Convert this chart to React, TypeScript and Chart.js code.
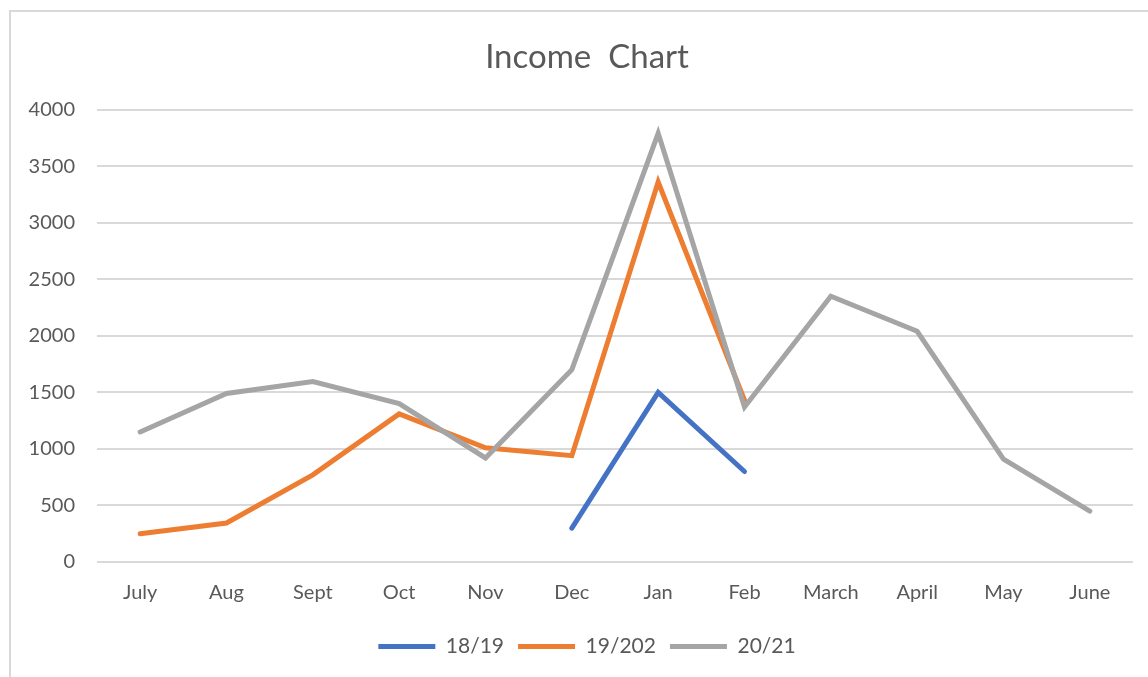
import React, { useEffect, useRef } from "react";
import { Chart, registerables } from "chart.js";

Chart.register(...registerables);

const months = ["July", "Aug", "Sept", "Oct", "Nov", "Dec", "Jan", "Feb", "March", "April", "May", "June"];
const s1819 = [null, null, null, null, null, 300, 1500, 800, null, null, null, null];
const s19202 = [250, 345, 770, 1310, 1010, 940, 3360, 1430, null, null, null, null];
const s2021 = [1150, 1490, 1595, 1400, 920, 1700, 3790, 1370, 2350, 2040, 910, 450];
const seriesNames = ["18/19", "19/202", "20/21"];
const seriesColors = ["#4472C4", "#ED7D31", "#A5A5A5"];

const TEXT = "#595959";
const FONT = "Lato";

export default function App() {
  const ref = useRef<HTMLCanvasElement>(null);
  useEffect(() => {
    if (!ref.current) return;
    const all = [s1819, s19202, s2021];
    const chart = new Chart(ref.current, {
      type: "line",
      data: {
        labels: months,
        datasets: all.map((d, i) => ({
          label: seriesNames[i],
          data: d,
          borderColor: seriesColors[i],
          backgroundColor: seriesColors[i],
          borderWidth: 5,
          borderCapStyle: "round" as const,
          borderJoinStyle: "miter" as const,
          pointRadius: 0,
          pointHoverRadius: 0,
          tension: 0,
          spanGaps: false,
          order: 3 - i,
          yAxisID: "y",
        })),
      },
      options: {
        responsive: false,
        animation: false,
        layout: { padding: { left: 26, right: 0, top: 0, bottom: 10 } },
        plugins: {
          tooltip: { enabled: false },
          title: {
            display: true,
            text: "Income  Chart",
            color: TEXT,
            font: { family: FONT, size: 33, weight: "normal" },
            padding: { top: 38, bottom: 32 },
          },
          legend: {
            display: true,
            position: "bottom",
            labels: {
              color: TEXT,
              font: { family: FONT, size: 21 },
              usePointStyle: true,
              pointStyle: "line",
              pointStyleWidth: 57,
              boxHeight: 5,
              padding: 14,
              sort: (a: any, b: any) => a.datasetIndex - b.datasetIndex,
            },
          },
        },
        scales: {
          x: {
            offset: true,
            grid: { display: false, drawTicks: false, offset: true },
            border: { display: false },
            ticks: { color: TEXT, font: { family: FONT, size: 20 }, padding: 19, maxRotation: 0 },
            afterFit: (s: any) => { s.height = 60; },
          },
          y: {
            min: 0,
            max: 4000,
            ticks: {
              stepSize: 500,
              color: TEXT,
              font: { family: FONT, size: 20 },
              padding: 22,
              callback: (v: any) => String(v),
            },
            grid: { color: "#d9d9d9", lineWidth: 2, drawTicks: false },
            border: { display: false },
            afterFit: (s: any) => { s.width = 71; },
          },
          yRight: {
            type: "linear",
            position: "right",
            display: true,
            min: 0,
            max: 4000,
            grid: { display: false, drawTicks: false },
            border: { display: false },
            ticks: { display: false },
            afterFit: (s: any) => { s.width = 15; },
          },
        },
      },
    });
    return () => chart.destroy();
  }, []);
  return (
    <div style={{ position: "fixed", left: 0, top: 0, width: 1148, height: 677, background: "#fff", overflow: "hidden" }}>
      <div style={{ position: "absolute", left: 9, top: 10, width: 1160, height: 700, border: "2px solid #d9d9d9", boxSizing: "border-box" }} />
      <canvas ref={ref} width={1148} height={677} style={{ position: "absolute", left: 0, top: 0 }} />
    </div>
  );
}
